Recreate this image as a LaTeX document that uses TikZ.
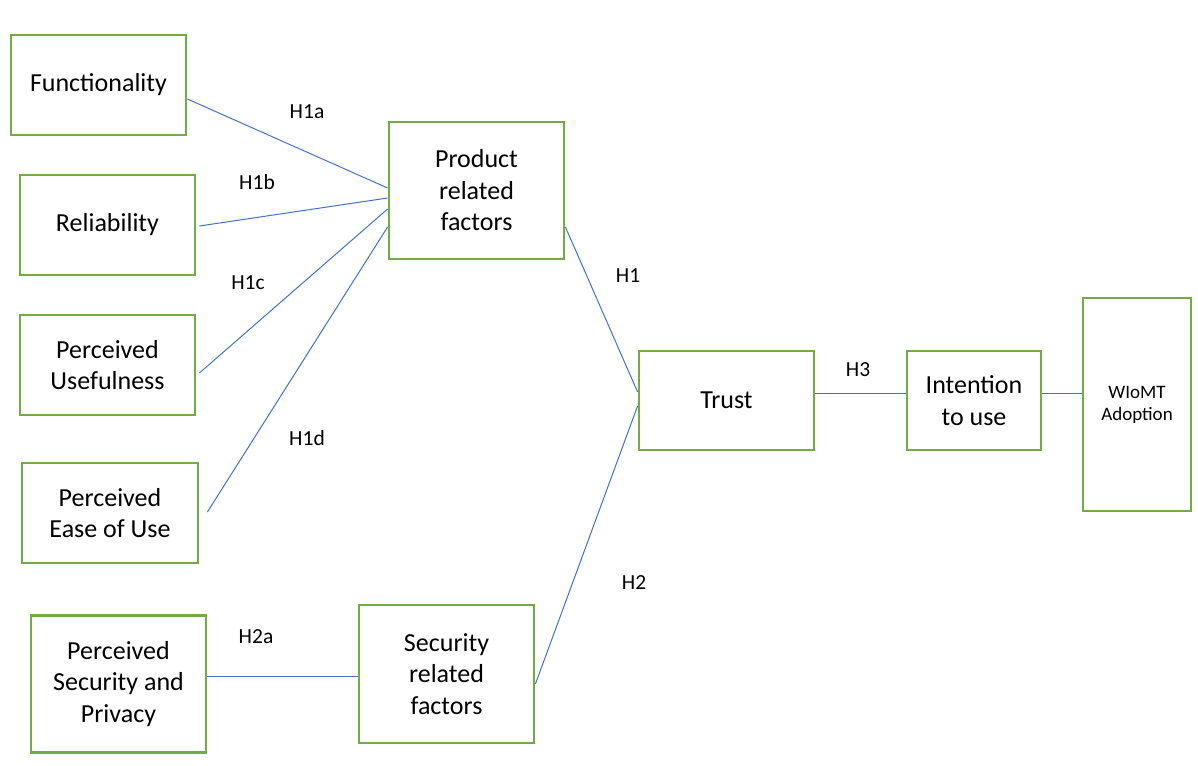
\documentclass[tikz,border=0pt]{standalone}
\usepackage{fontspec}
\setmainfont{Carlito}
\definecolor{boxgreen}{RGB}{112,173,71}
\definecolor{linkblue}{RGB}{68,114,196}
\begin{document}
\begin{tikzpicture}[x=1pt,y=-1pt,
  box/.style={draw=boxgreen, line width=2.8pt, inner sep=0pt, align=center,
    font=\fontsize{26}{31.5}\selectfont},
  lbl/.style={inner sep=0pt, font=\fontsize{21.5}{25}\selectfont},
  link/.style={draw=linkblue, line width=1pt}]
\useasboundingbox (0,0) rectangle (1198,765);
\node[box, minimum width=175pt, minimum height=100pt] (func) at (98.5,85) {Functionality};
\node[box, minimum width=175pt, minimum height=100pt] (rel) at (107.5,225) {Reliability};
\node[box, minimum width=175pt, minimum height=100pt] (use) at (107.5,365) {Perceived\\Usefulness};
\node[box, minimum width=176pt, minimum height=100pt] (ease) at (110,513) {Perceived\\Ease of Use};
\node[box, minimum width=175pt, minimum height=137pt] (psp) at (118.5,684) {Perceived\\Security and\\Privacy};
\node[box, minimum width=175pt, minimum height=137pt] (prod) at (476.5,190.5) {Product\\related\\factors};
\node[box, minimum width=175pt, minimum height=138pt] (sec) at (446.5,674) {Security\\related\\factors};
\node[box, minimum width=175pt, minimum height=99pt] (trust) at (726.5,400.5) {Trust};
\node[box, minimum width=134pt, minimum height=99pt] (intent) at (974,400.5) {Intention\\to use};
\node[box, minimum width=108pt, minimum height=213pt, font=\fontsize{19}{22}\selectfont] (wiomt) at (1137,404.5) {WIoMT\\Adoption};

\draw[link] ([yshift=-14pt]func.east) -- ([yshift=2.5pt]prod.west);
\draw[link] ([xshift=3pt,yshift=-1pt]rel.east) -- ([yshift=-7.5pt]prod.west);
\draw[link] ([xshift=3pt,yshift=-8pt]use.east) -- ([yshift=-18.5pt]prod.west);
\draw[link] ([xshift=8pt,yshift=1pt]ease.east) -- ([yshift=-36.5pt]prod.west);
\draw[link] ([yshift=-36.5pt]prod.east) -- ([yshift=8.5pt]trust.west);
\draw[link] ([yshift=-5.5pt]trust.west) -- ([yshift=-10pt]sec.east);
\draw[link] ([yshift=8pt]psp.east) -- ([yshift=-2pt]sec.west);
\draw[link] ([yshift=7.5pt]trust.east) -- ([yshift=7.5pt]intent.west);
\draw[link] ([yshift=7.5pt]intent.east) -- ([yshift=11.5pt]wiomt.west);

\node[lbl] (h1a) at (307,112) {H1a};
\node[lbl] (h1b) at (257,182) {H1b};
\node[lbl] (h1c) at (248,283) {H1c};
\node[lbl] (h1d) at (307,438) {H1d};
\node[lbl] (h1) at (628,276) {H1};
\node[lbl] (h2) at (634,583) {H2};
\node[lbl] (h2a) at (256,637) {H2a};
\node[lbl] (h3) at (858,370) {H3};
\end{tikzpicture}
\end{document}
